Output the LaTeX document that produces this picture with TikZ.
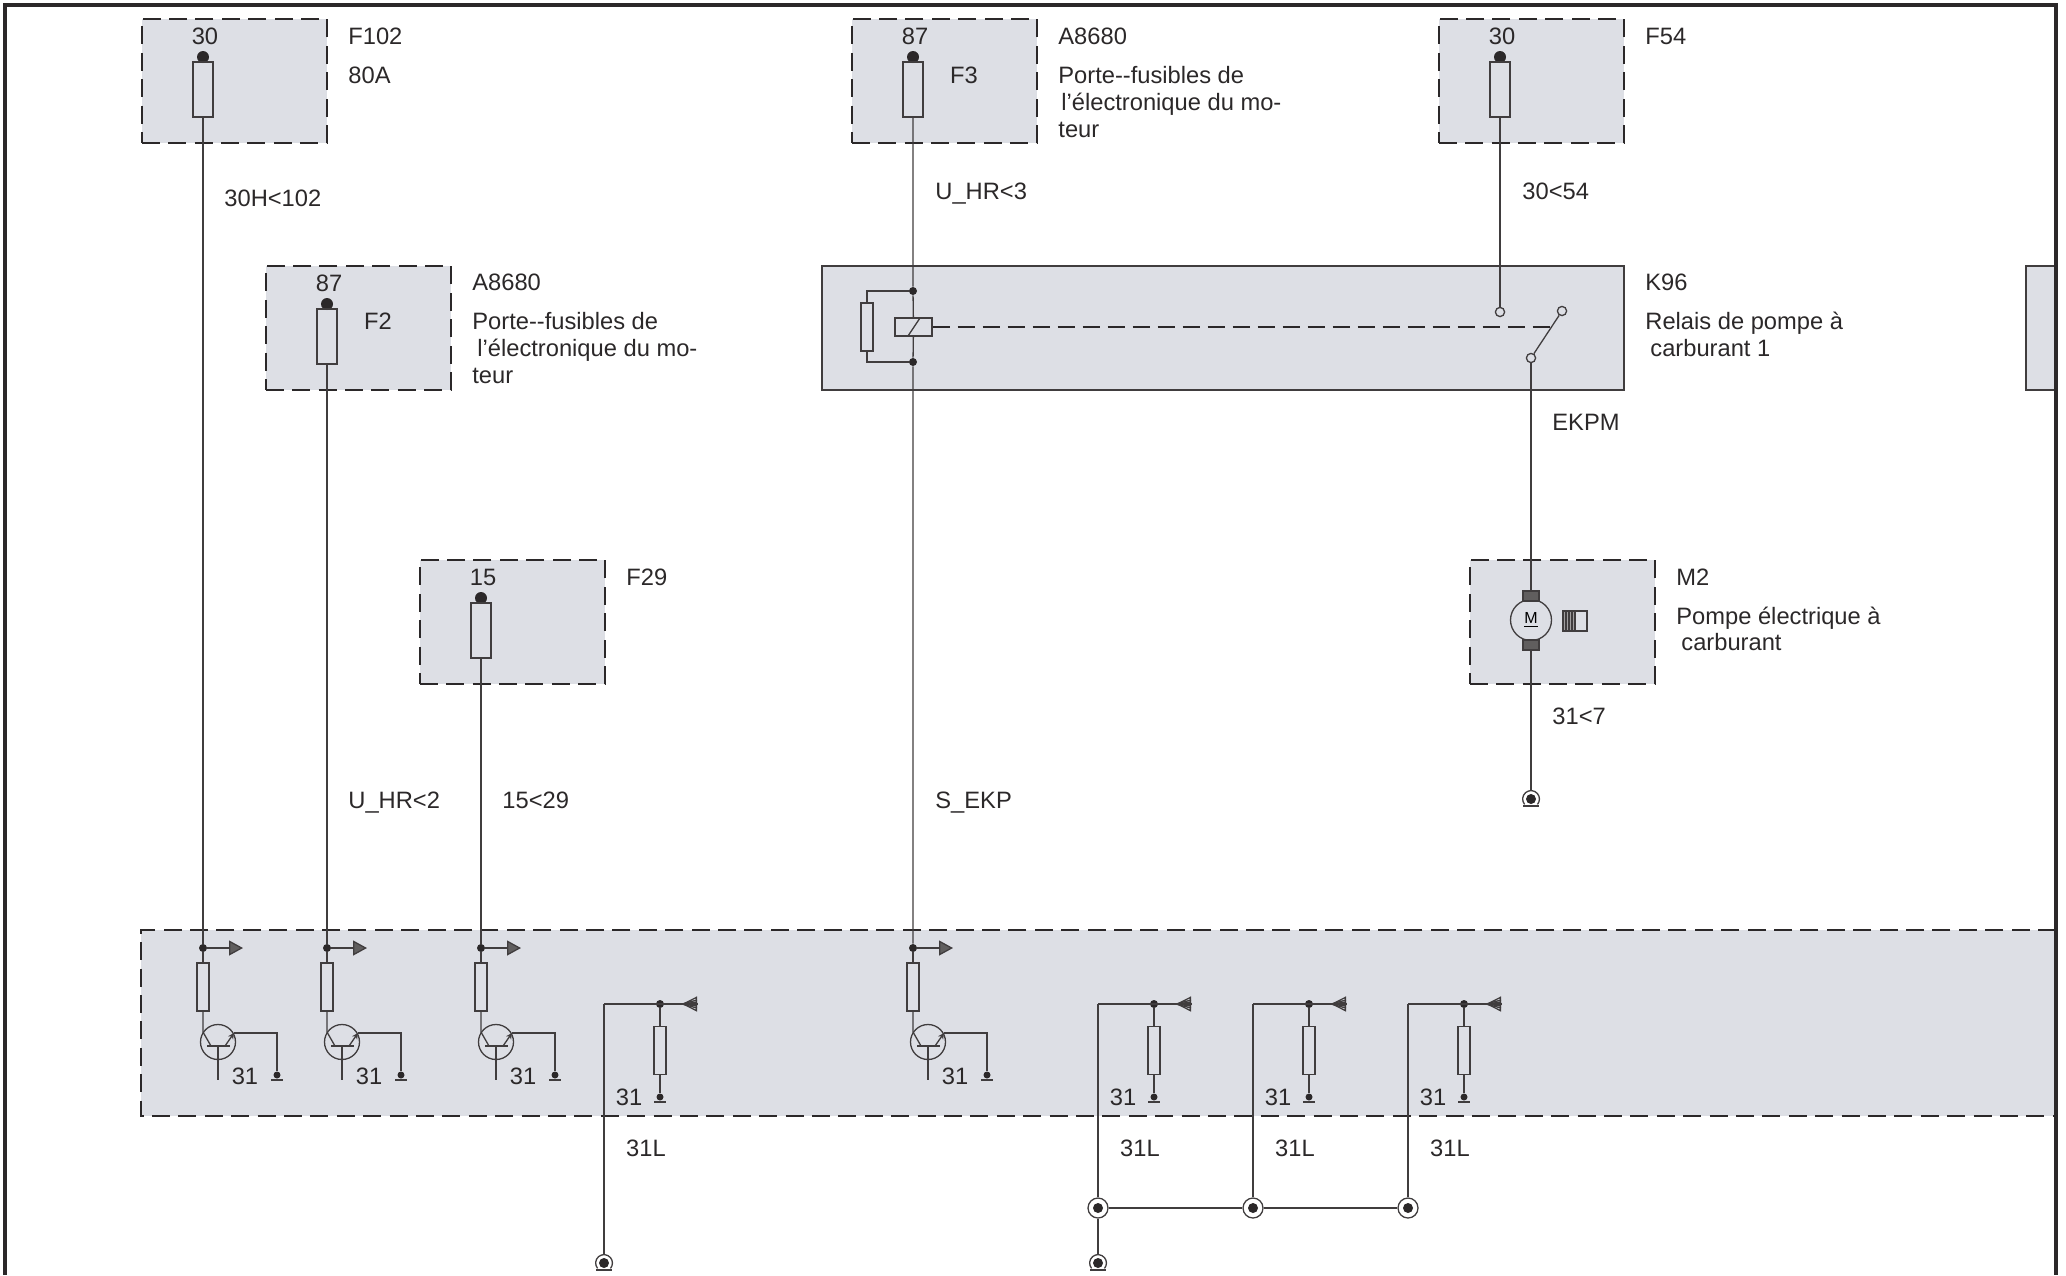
\documentclass[tikz,border=0pt]{standalone}
\usepackage{fontspec}
\setmainfont{Liberation Sans}
\usepackage{tikz}
\usetikzlibrary{arrows.meta}
\definecolor{boxgray}{HTML}{DDDFE5}
\definecolor{ink}{HTML}{2B2829}
\tikzset{
  lab/.style={inner sep=0pt,text=ink,font=\fontsize{11.85}{13.5}\selectfont,anchor=base west},
  labc/.style={lab,anchor=base},
  para/.style={lab,anchor=north west,align=left},
  wire/.style={draw=ink!90,line width=0.65pt},
  frameline/.style={draw=ink,line width=1.6pt},
  dashline/.style={draw=ink,line width=0.8pt,dash pattern=on 9pt off 4.2pt},
  fusebox/.style={dashline,fill=boxgray,minimum width=92.5pt,minimum height=62pt,inner sep=0pt,anchor=north west},
  fuse/.style={wire,rectangle,inner sep=0pt,minimum width=10pt,minimum height=27.5pt},
  res/.style={wire,rectangle,inner sep=0pt,minimum width=6pt,minimum height=24pt},
  blob/.style={circle,fill=ink,inner sep=0pt,minimum size=#1},
  blob/.default=4pt,
  contact/.style={wire,circle,fill=boxgray,inner sep=0pt,minimum size=4.6pt},
  ring/.style={wire,circle,fill=white,inner sep=0pt,minimum size=10pt},
  mterm/.style={wire,rectangle,fill=ink!75,inner sep=0pt,minimum width=8pt,minimum height=5pt},
  outtip/.style={-{Triangle[length=7pt,width=7.5pt,fill=ink!75]}},
  intip/.style={-{Triangle[length=7.5pt,width=7.5pt,fill=boxgray]}}
}
\begin{document}
\begin{tikzpicture}[x=0.5pt,y=-0.5pt]
  \useasboundingbox (0,0) rectangle (2066,1275);
  \fill[boxgray] (141,930) rectangle (2056,1116);
  \draw[dashline] (2056,930) -- (141,930) -- (141,1116) -- (2056,1116);
  \node[wire,fill=boxgray,line width=0.9pt,inner sep=0pt,minimum width=401pt,minimum height=62pt,anchor=north west] (relbox) at (821,265) {};
  \node[wire,fill=boxgray,line width=0.9pt,inner sep=0pt,minimum width=15.5pt,minimum height=62pt,anchor=north west] (nextbox) at (2025,265) {};
  \node[fusebox] (motbox) at (1469,559) {};
  \draw[frameline] (5,1275) -- (5,5) -- (2056,5) -- (2056,1275);
  \foreach \n/\x/\y/\t in {a/203/18/30,b/327/265/87,c/481/559/15,d/913/18/87,e/1500/18/30}{
    \node[fusebox] (box\n) at (\x-62,\y) {};
    \node[labc] (term\n) at (\x+2,\y+26) {\t};
    \node[blob=6pt] (top\n) at (\x,\y+39) {};
    \node[fuse] (fuse\n) at (\x,\y+71.5) {};
  }
  \node[labc] (ftwo) at (378,329) {F2};
  \node[labc] (fthree) at (964,83) {F3};
  \node[lab] (lfa) at (348,44) {F102};
  \node[lab] (lfb) at (348,83.5) {80A};
  \node[lab] (lfc) at (224,206) {30H<102};
  \node[lab] (lfd) at (472,290) {A8680};
  \node[para] (lfe) at (472,312) {Porte-{}-fusibles de\\\hspace{2.5pt}l’électronique du mo-\\teur};
  \node[lab] (lff) at (626,585) {F29};
  \node[lab] (lfg) at (348,808) {U\_HR<2};
  \node[lab] (lfh) at (502,808) {15<29};
  \node[lab] (lfi) at (1058,44) {A8680};
  \node[para] (lfj) at (1058,66) {Porte-{}-fusibles de\\\hspace{1.5pt}l’électronique du mo-\\teur};
  \node[lab] (lfk) at (935,199) {U\_HR<3};
  \node[lab] (lfl) at (1645,44) {F54};
  \node[lab] (lfm) at (1522,199) {30<54};
  \node[lab] (lfn) at (1645,290) {K96};
  \node[para] (lfo) at (1645,312) {Relais de pompe à\\\hspace{2.5pt}carburant 1};
  \node[lab] (lfp) at (1552,430) {EKPM};
  \node[lab] (lfq) at (1676,585) {M2};
  \node[para] (lfr) at (1676,607) {Pompe électrique à\\[-0.5pt]\hspace{2.5pt}carburant};
  \node[lab] (lfs) at (1552,724) {31<7};
  \node[lab] (lft) at (935,808) {S\_EKP};
  \foreach \n/\x in {a/203,b/327,c/481,d/913}{
    \node[blob] (j\n) at (\x,948) {};
    \coordinate (tip\n) at (\x+40,948);
    \draw[wire,outtip] (j\n) -- (tip\n);
    \node[res] (r\n) at (\x,987) {};
    \node[wire,circle,inner sep=0pt,minimum size=17.5pt] (tr\n) at (\x+15,1042) {};
    \node[blob=3.5pt] (g\n) at (\x+74,1075) {};
    \node[labc] (n\n) at (\x+42,1084) {31};
    \draw[wire] (j\n) -- (r\n);
    \draw[wire] (r\n) -- (\x,1032) -- (\x+8,1046);
    \draw[wire] (\x+4,1046) -- (\x+27,1046);
    \draw[wire] (\x+15,1046) -- (\x+15,1080);
    \draw[wire,-{Stealth[length=3pt,width=3pt]}] (\x+22,1046) -- (\x+31,1033);
    \draw[wire] (\x+31,1033) -- (\x+74,1033) -- (g\n);
    \draw[wire] (\x+68,1080) -- (\x+80,1080);
  }
  \draw[wire] (fusea) -- (ja);
  \draw[wire] (fuseb) -- (jb);
  \draw[wire] (fusec) -- (jc);
  \node[wire,rectangle,inner sep=0pt,minimum width=18.5pt,minimum height=9pt] (coil) at (913.5,327) {};
  \node[blob] (rtop) at (913,291) {};
  \node[blob] (rbot) at (913,362) {};
  \node[res] (rrel) at (867,327) {};
  \draw[wire] (fused) -- (rtop) -- (coil);
  \draw[wire] (coil) -- (rbot) -- (jd);
  \draw[wire] (908,336) -- (920,318);
  \draw[wire] (rrel.north) |- (rtop);
  \draw[wire] (rrel.south) |- (rbot);
  \node[contact] (cona) at (1500,312) {};
  \node[contact] (conb) at (1562,311) {};
  \node[contact] (conc) at (1531,358) {};
  \coordinate (lever) at (1551,327);
  \draw[wire] (fusee) -- (cona);
  \draw[wire] (conc) -- (conb);
  \draw[draw=ink,line width=0.7pt,dash pattern=on 8.5pt off 4pt] (coil.east) -- (lever);
  \node[wire,circle,inner sep=0pt,minimum size=20.5pt] (mot) at (1531,620) {\fontsize{8}{8}\selectfont\underline{M}};
  \node[mterm] (mtop) at (1531,596) {};
  \node[mterm] (mbot) at (1531,645) {};
  \node[wire,rectangle,fill=ink!45,inner sep=0pt,minimum width=6pt,minimum height=10pt] (hatch) at (1569,621) {};
  \node[wire,rectangle,inner sep=0pt,minimum width=6pt,minimum height=10pt] (hatchb) at (1581,621) {};
  \foreach \d in {1566,1569,1572}{
    \draw[wire] (\d,611) -- (\d,631);
  }
  \draw[wire] (conc) -- (mtop);
  \foreach \n/\x/\y in {k/604/1263,l/1098/1263,m/1531/799}{
    \node[blob=5pt] (gnd\n) at (\x,\y) {};
    \coordinate (gtop\n) at (\x,\y-8.4);
    \draw[wire] (\x-6.4,\y+5.4) arc[start angle=220,end angle=-40,radius=4.2pt];
    \draw[wire] (\x-8,\y+7) -- (\x+8,\y+7);
  }
  \draw[wire] (mbot) -- (gtopm);
  \foreach \n/\x in {k/604,l/1098,m/1253,o/1408}{
    \node[blob=3.5pt] (h\n) at (\x+56,1097) {};
    \node[blob] (jn\n) at (\x+56,1004) {};
    \node[res] (s\n) at (\x+56,1050.5) {};
    \coordinate (base\n) at (\x+93,1004);
    \coordinate (arr\n) at (\x+78,1004);
    \coordinate (cor\n) at (\x,1004);
    \node[labc] (p\n) at (\x+25,1105) {31};
    \node[labc] (q\n) at (\x+42,1156) {31L};
    \draw[wire] (cor\n) -- (arr\n);
    \draw[wire,intip] (base\n) -- (arr\n);
    \foreach \d in {-4,-2,0,2,4}{
      \draw[wire] (arr\n) -- (\x+93,1004+\d);
    }
    \draw[wire] (jn\n) -- (s\n) -- (h\n);
    \draw[wire] (\x+50,1102) -- (\x+62,1102);
  }
  \draw[wire] (cork) -- (gtopk);
  \foreach \n/\x in {l/1098,m/1253,o/1408}{
    \node[ring] (ring\n) at (\x,1208) {};
    \node[blob=5pt] (dot\n) at (\x,1208) {};
    \draw[wire] (cor\n) -- (ring\n);
  }
  \draw[wire] (ringl) -- (ringm) -- (ringo);
  \draw[wire] (ringl) -- (gtopl);
\end{tikzpicture}
\end{document}
